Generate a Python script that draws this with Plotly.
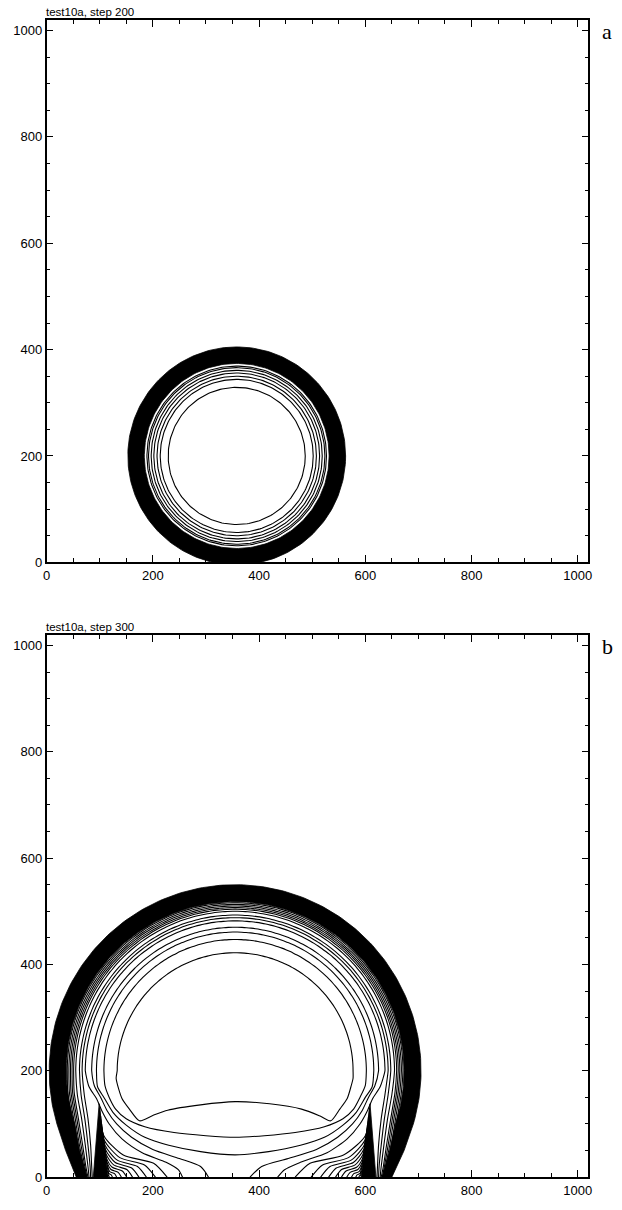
import numpy as np
import plotly.graph_objects as go

# ---------------- data ----------------
AX_MAX = 1020
major_ticks = [0, 200, 400, 600, 800, 1000]
minor_step = 50
panel_titles = ["test10a, step 200", "test10a, step 300"]
panel_letters = ["a", "b"]

# panel a : spherical blast, concentric contour rings
a_center = [358, 200]
a_band = [174, 205]                       # dense (solid) shock band radii
a_rings = [169, 166, 161, 156, 150, 144, 129]

# panel b : blast after ground reflection
b_center = [355, 200]
b_band_radii = [318, 350]                 # inner / outer radius of the dense shock band
b_outer_foot_left = [[36, 50], [56, 0]]
b_outer_foot_right = [[673, 50], [650, 0]]
b_inner_foot_left = [[62, 50], [76, 0]]
b_inner_foot_right = [[646, 50], [632, 0]]
b_spike_left = [[88, 0], [99, 138], [116, 0]]
b_spike_right = [[592, 0], [609, 138], [620, 0]]

# contours running along the shock and ending on the ground (dome radius + lower paths)
b_fan_R = [316, 313, 310, 307, 304, 300, 293, 288, 282, 270]
b_fan_left = [
    [[40, 160], [48, 110], [56, 60], [66, 20], [70, 0]],
    [[43, 160], [51, 110], [59, 60], [68, 20], [72, 0]],
    [[46, 160], [54, 110], [62, 60], [70, 20], [74, 0]],
    [[49, 160], [57, 110], [65, 60], [72, 20], [76, 0]],
    [[52, 160], [60, 110], [68, 60], [74, 20], [78, 0]],
    [[58, 155], [66, 110], [73, 60], [78, 20], [80, 0]],
    [[65, 155], [72, 110], [78, 60], [82, 20], [83, 0]],
    [[71, 155], [78, 110], [83, 60], [85, 20], [86, 0]],
    [[80, 170], [94, 148], [104, 125], [118, 100], [142, 72], [180, 46], [225, 28],
     [248, 14], [256, 0]],
    [[90, 172], [102, 150], [114, 125], [132, 100], [160, 75], [200, 52], [250, 35],
     [290, 20], [305, 0]],
]
b_fan_right = [
    [[668, 160], [660, 110], [652, 60], [642, 20], [638, 0]],
    [[665, 160], [657, 110], [649, 60], [640, 20], [636, 0]],
    [[662, 160], [654, 110], [646, 60], [638, 20], [634, 0]],
    [[659, 160], [651, 110], [643, 60], [636, 20], [632, 0]],
    [[656, 160], [648, 110], [640, 60], [634, 20], [630, 0]],
    [[650, 155], [642, 110], [635, 60], [630, 20], [628, 0]],
    [[643, 155], [636, 110], [630, 60], [626, 20], [625, 0]],
    [[637, 155], [630, 110], [625, 60], [623, 20], [622, 0]],
    [[628, 170], [614, 148], [604, 125], [590, 100], [566, 72], [528, 46], [478, 28],
     [448, 14], [435, 0]],
    [[618, 172], [606, 150], [594, 125], [576, 100], [548, 75], [508, 52], [455, 35],
     [405, 20], [383, 0]],
]

# contours wrapping the reflected-shock spikes: start height on the spike, landing point on the ground
b_wrap_height = [130, 115, 100, 86, 72, 58, 45, 33, 22, 12]
b_wrap_ground_left = [227, 205, 188, 174, 162, 151, 141, 132, 124, 118]
b_wrap_ground_right = [468, 498, 516, 531, 544, 555, 565, 574, 582, 588]

# closed contours (dome radius, then lower path from left side to right side)
b_closed_R = [261, 247, 222]
b_closed_lower = [
    [[96, 170], [108, 150], [125, 122], [150, 98], [185, 75], [230, 60], [290, 48],
     [355, 42], [418, 48], [478, 60], [523, 75], [558, 98], [583, 122], [600, 150],
     [613, 170]],
    [[110, 172], [118, 150], [130, 128], [150, 110], [185, 95], [240, 84], [300, 78],
     [355, 75], [410, 78], [468, 84], [523, 95], [558, 110], [578, 128], [590, 150],
     [600, 172]],
    [[131, 186], [136, 165], [142, 148], [156, 128], [175, 106], [200, 116], [228, 126],
     [290, 136], [355, 142], [420, 138], [480, 128], [515, 115], [535, 106], [552, 128],
     [566, 148], [573, 170], [577, 186]],
]

# ---------------- layout geometry (window pixels; the page body adds an 8 px margin) ----------------
PAGE_W, PAGE_H, BODY = 622, 1210, 8
W, H = PAGE_W - BODY, PAGE_H - BODY       # figure reaches the window's right and bottom edges
PX_L, PX_R = 43, 592
PANEL_PX = [(20, 566), (639, 1185)]     # (top, bottom) of each plot area


def px2x(px):
    return (px - BODY) / W


def py2y(py):
    return 1 - (py - BODY) / H


def arc(cx, cy, r, a0, a1, n=120):
    t = np.radians(np.linspace(a0, a1, n))
    return list(cx + r * np.cos(t)), list(cy + r * np.sin(t))


fig = go.Figure()
LINE = dict(color="black", width=1.1)
SPL = dict(color="black", width=1.1, shape="spline", smoothing=0.7)


def add_line(x, y, ax, spline=False):
    fig.add_trace(go.Scatter(x=x, y=y, mode="lines", line=SPL if spline else LINE,
                             xaxis="x" + ax, yaxis="y" + ax, hoverinfo="skip"))


def add_fill(x, y, ax):
    fig.add_trace(go.Scatter(x=x, y=y, fill="toself", fillcolor="black", mode="lines",
                             line=dict(color="black", width=0.8),
                             xaxis="x" + ax, yaxis="y" + ax, hoverinfo="skip"))


# ----- panel a -----
cx, cy = a_center
ox, oy = arc(cx, cy, a_band[1], 0, 360, 240)
ix, iy = arc(cx, cy, a_band[0], 360, 0, 240)
add_fill(ox + ix, oy + iy, "")
for r in a_rings:
    x, y = arc(cx, cy, r, 0, 360, 240)
    add_line(x, y, "")

# ----- panel b -----
cx, cy = b_center
rin, rout = b_band_radii
fo = np.degrees(np.arcsin(100 / rout))
fi = np.degrees(np.arcsin(100 / rin))
oxa, oya = arc(cx, cy, rout, 180 + fo, -fo, 200)
ixa, iya = arc(cx, cy, rin, -fi, 180 + fi, 200)
seq = (b_outer_foot_left[::-1], "outer", b_outer_foot_right, b_inner_foot_right[::-1],
       "inner", b_inner_foot_left)
bx, by = [], []
for part in seq:
    if part == "outer":
        bx += oxa
        by += oya
    elif part == "inner":
        bx += ixa
        by += iya
    else:
        bx += [p[0] for p in part]
        by += [p[1] for p in part]
add_fill(bx, by, "2")
for sp in (b_spike_left, b_spike_right):
    add_fill([p[0] for p in sp], [p[1] for p in sp], "2")

for R, lp, rp in zip(b_fan_R, b_fan_left, b_fan_right):
    ax_, ay_ = arc(cx, cy, R, 0, 180, 100)
    x = [p[0] for p in rp[::-1]] + ax_ + [p[0] for p in lp]
    y = [p[1] for p in rp[::-1]] + ay_ + [p[1] for p in lp]
    add_line(x, y, "2", spline=True)


def spike_edge_x(spike, h, side):
    (x0, _), (xa, ya), (x1, _) = spike
    base = x1 if side == "right" else x0
    return base + (xa - base) * h / ya


for h, gl, gr in zip(b_wrap_height, b_wrap_ground_left, b_wrap_ground_right):
    for spike, side, g in ((b_spike_left, "right", gl), (b_spike_right, "left", gr)):
        xa = spike_edge_x(spike, h, side)
        sgn = 1 if side == "right" else -1
        xb = spike_edge_x(spike, 0.6 * h, side) + sgn * 1.5
        d = g - xa
        x = [xa, xb, xa + 0.35 * d, xa + 0.8 * d, g]
        y = [h, 0.6 * h, 0.32 * h, 0.2 * h, 0]
        add_line(x, y, "2", spline=True)

for R, low in zip(b_closed_R, b_closed_lower):
    ax_, ay_ = arc(cx, cy, R, 0, 180, 100)
    x = ax_ + [p[0] for p in low] + [ax_[0]]
    y = ay_ + [p[1] for p in low] + [ay_[0]]
    add_line(x, y, "2", spline=True)

# ----- axes -----
FONT = "Liberation Sans, Arial, Helvetica, sans-serif"


def axis_dict(domain, anchor):
    return dict(domain=domain, anchor=anchor, range=[0, AX_MAX], showgrid=False,
                zeroline=False, showline=True, linecolor="black", linewidth=1.6,
                mirror="allticks", ticks="inside", ticklen=7, tickwidth=1.2,
                tickcolor="black", tickvals=major_ticks,
                ticktext=[str(v) for v in major_ticks],
                minor=dict(dtick=minor_step, tick0=0, ticks="inside", ticklen=4,
                           tickwidth=1, tickcolor="black", showgrid=False),
                tickfont=dict(family=FONT, size=13, color="black"), fixedrange=True)


xdom = [px2x(PX_L), px2x(PX_R)]
layout = dict(width=W, height=H, margin=dict(l=0, r=0, t=0, b=0),
              paper_bgcolor="white", plot_bgcolor="white", showlegend=False)
layout["xaxis"] = axis_dict(xdom, "y")
layout["yaxis"] = axis_dict([py2y(PANEL_PX[0][1]), py2y(PANEL_PX[0][0])], "x")
layout["xaxis2"] = axis_dict(xdom, "y2")
layout["yaxis2"] = axis_dict([py2y(PANEL_PX[1][1]), py2y(PANEL_PX[1][0])], "x2")
fig.update_layout(**layout)

ann = []
for (top, bot), title, letter in zip(PANEL_PX, panel_titles, panel_letters):
    ann.append(dict(x=px2x(41), y=py2y(top - 1), xref="paper", yref="paper",
                    text=title, showarrow=False, xanchor="left", yanchor="bottom",
                    borderpad=0, font=dict(family=FONT, size=11.5, color="black")))
    ann.append(dict(x=px2x(611), y=py2y(top + 12), xref="paper", yref="paper",
                    text=letter, showarrow=False, xanchor="center", yanchor="middle",
                    font=dict(family="Liberation Serif, Times New Roman, serif", size=22,
                              color="black")))
fig.update_layout(annotations=ann)

fig.write_html("out.html")
